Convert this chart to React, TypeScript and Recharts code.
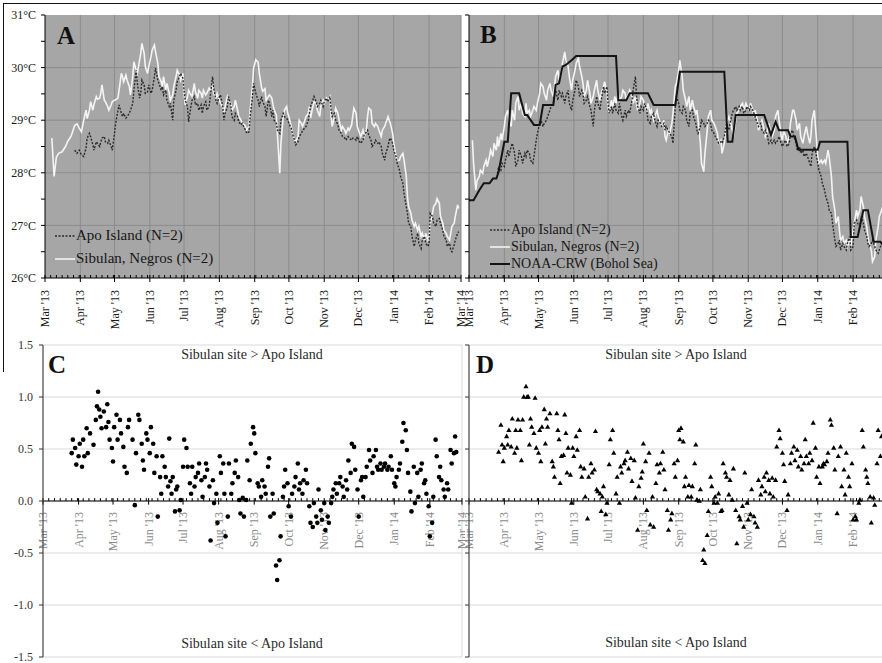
import React from 'react';
import { LineChart, Line, XAxis, YAxis, CartesianGrid, ReferenceLine, Legend, ScatterChart, Scatter } from 'recharts';

const serif = "'Liberation Serif', 'DejaVu Serif', serif";

// days counted from 1 Mar 2013
const monthTicks = [0, 31, 61, 92, 122, 153, 184, 214, 245, 275, 306, 337, 365];
const monthLabels = ["Mar '13", "Apr '13", "May '13", "Jun '13", "Jul '13", "Aug '13", "Sep '13", "Oct '13", "Nov '13", "Dec '13", "Jan '14", "Feb '14", "Mar '14"];
const minorTicks = Array.from({ length: 72 }, (_, i) => (i + 1) * 5).filter(t => !monthTicks.includes(t));
const allTicks = [...monthTicks, ...minorTicks].sort((a, b) => a - b);
const tempTicks = [26, 26.5, 27, 27.5, 28, 28.5, 29, 29.5, 30, 30.5, 31];
const tempGrid = [27, 28, 29, 30];
const diffTicks = [-1.5, -1, -0.5, 0, 0.5, 1, 1.5];

// panel A: daily temperatures
const aDays = [6,8,10,12,15,18,20,23,26,28,30,32,34,36,37,39,40,42,43,45,46,48,49,50,52,53,55,56,58,59,61,62,64,65,67,68,69,71,72,74,75,77,78,80,81,83,84,85,87,88,90,91,93,94,96,97,99,100,102,103,104,106,107,109,110,112,113,115,116,118,119,121,122,123,125,126,128,129,131,132,134,135,137,138,139,141,142,144,145,147,148,150,151,153,154,156,157,158,160,161,163,164,166,167,169,170,172,173,175,176,177,179,180,182,183,
  185,187,188,190,191,193,194,196,197,199,200,201,203,204,206,207,209,210,212,213,214,216,217,219,220,222,223,225,226,228,229,231,232,233,235,236,238,239,241,242,244,245,247,248,250,251,252,254,255,257,258,260,261,263,264,266,267,269,270,271,273,274,276,277,279,280,282,283,284,286,287,289,290,292,293,295,296,298,299,301,302,303,305,306,308,309,311,312,314,315,317,318,319,321,322,324,325,327,328,330,331,333,334,336,337,338,340,341,343,344,346,347,349,350,352,353,355,356,357,359,360,362,363];
const aSib = [28.66,27.93,28.30,28.37,28.40,28.50,28.60,28.70,28.90,28.93,28.85,28.78,29.00,29.19,29.03,29.19,29.35,29.19,29.30,29.45,29.40,29.42,29.52,29.67,29.38,29.35,29.26,29.19,29.29,29.35,29.38,29.39,29.42,29.57,29.89,29.83,29.73,29.86,29.76,29.64,29.48,29.83,30.11,29.95,29.89,30.14,30.27,30.46,30.27,30.02,29.89,30.02,30.21,30.33,30.43,30.30,30.08,29.83,29.73,29.64,29.83,29.57,29.70,29.51,29.38,29.48,29.64,29.83,29.95,29.86,29.76,29.89,29.51,29.29,29.45,29.57,29.48,29.45,29.70,29.54,29.42,29.57,29.51,29.42,29.57,29.48,29.51,29.61,29.57,29.67,29.51,29.42,29.51,29.38,29.32,29.26,29.13,29.26,29.45,29.38,29.32,29.19,29.26,29.38,29.19,29.07,29.00,28.94,28.91,28.88,28.81,28.88,29.19,29.64,29.99,
  30.15,30.10,29.90,29.62,29.55,29.60,29.38,29.45,29.48,29.42,29.30,29.20,29.10,28.70,27.99,28.56,29.07,29.19,29.26,29.13,29.07,28.88,28.75,28.62,28.59,28.69,29.00,28.94,28.88,29.00,29.07,29.13,29.26,29.04,29.26,29.35,29.32,29.19,29.07,29.26,29.38,29.32,29.42,29.38,29.45,29.07,28.88,29.07,29.23,29.13,29.00,28.81,28.88,28.81,28.75,28.85,28.81,28.91,29.07,29.23,29.13,28.88,28.75,28.69,28.81,28.69,28.81,29.07,29.23,29.19,28.94,28.88,28.94,28.88,28.81,28.69,28.81,28.88,28.94,29.07,29.00,28.94,28.75,28.56,28.31,28.24,28.24,28.31,28.37,28.24,27.93,27.55,27.36,27.23,27.10,26.98,27.04,26.91,26.98,26.79,26.85,26.72,26.85,26.72,26.79,27.04,27.23,27.36,27.42,27.51,27.42,27.17,27.04,26.91,26.85,26.79,26.72,26.85,26.98,27.04,27.17,27.39,27.32];
const aApo = [null,null,null,null,null,null,null,null,28.43,28.37,28.43,28.34,28.31,28.47,28.66,28.75,28.69,28.53,28.43,28.59,28.56,28.50,28.59,28.66,28.69,28.59,28.56,28.62,28.50,28.43,28.75,28.94,29.19,29.29,29.13,29.07,29.13,29.04,29.07,29.13,29.19,29.32,29.57,29.95,29.70,29.42,29.51,29.76,29.67,29.51,29.54,29.67,29.51,29.57,29.83,29.99,29.76,29.70,29.57,29.64,29.48,29.57,29.38,29.26,29.32,29.00,29.38,29.57,29.73,29.83,29.89,29.80,29.57,29.38,29.26,28.97,29.26,29.38,29.45,29.29,29.32,29.19,29.29,29.13,29.26,29.35,29.19,29.26,29.45,29.83,29.61,29.38,29.32,29.45,29.48,29.26,29.00,29.13,29.26,29.45,29.29,29.07,29.00,29.13,29.07,28.97,28.91,28.94,28.85,28.81,28.75,28.78,29.07,29.45,29.70,
  29.51,29.38,29.26,29.45,29.35,29.26,29.07,29.38,29.32,29.07,29.19,29.00,28.94,28.81,28.75,29.00,29.13,29.07,29.04,29.00,28.94,28.85,28.75,28.62,28.53,28.59,28.69,28.75,28.81,28.85,28.88,29.00,29.13,29.26,29.38,29.45,29.35,29.26,29.32,29.38,29.26,29.35,29.42,29.35,29.45,29.19,29.07,29.13,29.00,28.91,28.81,28.75,28.69,28.66,28.62,28.69,28.66,28.62,28.66,28.66,28.62,28.69,28.59,28.56,28.62,28.72,28.78,28.81,28.72,28.62,28.50,28.56,28.62,28.56,28.59,28.50,28.37,28.24,28.37,28.50,28.62,28.66,28.56,28.43,28.31,28.18,28.05,27.93,27.80,27.61,27.36,27.23,27.04,26.98,26.79,26.60,26.72,26.85,26.66,26.56,26.72,26.79,26.66,26.60,26.66,27.23,27.17,27.04,26.98,27.10,27.13,27.04,26.91,26.79,26.72,26.60,26.66,26.53,26.50,26.63,26.72,26.85,26.88];

// panel B: daily temperatures
const bDays = [3,4,6,7,9,10,12,13,15,16,18,19,21,22,24,25,26,28,29,31,32,34,35,37,38,40,41,43,44,46,47,49,50,51,53,54,56,57,59,60,62,63,65,66,68,69,71,72,74,75,76,78,79,81,82,84,85,87,88,90,91,93,94,96,97,99,100,101,103,104,106,107,109,110,112,113,115,116,118,119,121,122,123,125,126,128,129,131,132,134,135,137,138,140,141,143,144,146,147,148,150,151,153,154,156,157,159,160,162,163,165,166,168,169,171,172,173,175,176,178,179,
  181,182,184,185,187,188,190,191,193,194,196,197,199,200,201,203,204,206,207,209,210,212,213,215,216,218,219,221,222,224,225,226,228,229,231,232,234,235,237,238,240,241,243,244,246,247,249,250,251,253,254,256,257,259,260,262,263,265,266,268,269,271,272,274,275,276,278,279,281,282,284,285,287,288,290,291,293,294,296,297,299,300,301,303,304,306,307,309,310,312,313,315,316,318,319,321,322,324,325,326,328,329,331,332,334,335,337,338,340,341,343,344,346,347,349,350,351,353,354,356,357,359,360,362,363];
const bSib = [28.62,28.18,27.67,27.85,27.93,28.05,27.99,28.12,28.24,28.12,28.31,28.43,28.31,28.56,28.43,28.69,28.50,28.75,28.62,28.88,29.07,29.19,29.00,28.88,29.19,29.00,29.32,29.45,29.19,29.32,29.13,29.07,29.32,29.13,29.19,29.07,29.19,29.26,29.19,29.32,29.51,29.70,29.64,29.51,29.38,29.57,29.70,29.57,29.45,29.64,29.83,29.95,29.76,29.89,30.08,30.30,30.14,30.02,29.83,29.57,29.76,29.95,30.08,30.18,30.02,29.83,29.70,29.45,29.57,29.76,29.51,29.32,29.45,29.57,29.76,29.57,29.38,29.51,29.64,29.73,29.51,29.26,29.13,29.38,29.26,29.45,29.32,29.51,29.38,29.45,29.57,29.51,29.38,29.51,29.57,29.45,29.32,29.45,29.32,29.19,29.32,29.45,29.38,29.26,29.19,29.32,29.13,29.19,29.00,29.07,29.19,29.07,28.94,28.88,29.00,28.69,28.62,28.81,28.75,28.94,29.13,
  29.64,29.70,29.95,30.14,29.83,29.57,29.38,29.26,29.45,29.19,29.38,29.26,29.13,29.19,29.00,28.56,28.18,28.02,28.37,28.81,29.07,29.19,29.00,28.94,28.88,28.75,28.56,28.62,28.37,28.56,28.75,28.94,29.07,29.00,28.81,28.69,29.00,29.13,29.19,29.26,29.32,29.19,29.32,29.26,29.19,29.32,29.19,29.07,29.19,29.00,28.81,28.94,29.00,28.81,28.69,28.81,28.94,28.75,28.69,28.81,29.07,29.19,29.00,28.69,28.62,28.81,28.69,28.56,28.69,28.94,29.19,29.19,29.00,28.81,28.94,28.69,28.56,28.69,28.88,28.75,28.56,28.69,29.00,29.19,28.88,28.31,28.18,28.24,28.18,28.24,28.18,28.43,28.31,27.93,27.55,27.29,27.04,27.17,26.91,26.72,26.79,26.66,26.72,26.60,26.72,26.60,26.91,27.04,27.29,27.17,27.29,27.55,27.36,27.17,26.98,26.79,26.66,26.53,26.31,26.41,26.72,26.98,27.17,27.29,27.36];
const bApo = [null,null,null,null,null,null,null,null,null,null,null,null,null,null,null,27.99,28.12,28.05,28.18,28.12,28.24,28.43,28.31,28.50,28.56,28.37,28.12,28.24,28.43,28.31,28.18,28.37,28.31,28.43,28.37,28.24,28.18,28.31,28.62,28.75,28.94,29.00,28.88,28.94,29.00,29.07,29.19,29.26,29.32,29.45,29.57,29.38,29.57,29.45,29.51,29.32,29.45,29.57,29.32,29.19,29.38,29.57,29.76,29.64,29.45,29.57,29.51,29.32,29.38,29.45,29.26,29.19,28.88,29.19,29.45,29.32,29.19,29.38,29.64,29.51,29.64,29.32,29.13,29.26,29.13,29.32,29.19,29.13,29.32,29.07,29.00,29.19,29.07,29.19,29.13,29.38,29.57,29.83,29.45,29.26,29.13,29.26,29.19,29.32,29.19,29.00,28.94,29.07,29.13,29.00,28.88,29.00,28.94,28.88,28.94,28.81,28.88,28.81,28.75,28.69,28.56,
  29.26,29.45,29.32,29.19,29.13,29.26,29.19,29.00,28.88,29.13,29.19,29.07,28.94,28.81,28.75,28.88,29.00,28.94,28.88,28.94,29.00,28.94,28.81,28.75,28.69,28.62,28.56,28.59,28.56,28.69,28.81,28.94,28.81,28.94,29.13,29.19,29.26,29.19,29.26,29.19,29.26,29.13,29.19,29.26,29.19,29.26,29.19,29.13,29.07,28.94,28.88,28.94,28.81,28.75,28.81,28.69,28.56,28.62,28.56,28.62,28.56,28.62,28.69,28.56,28.50,28.56,28.62,28.50,28.56,28.75,28.81,28.69,28.56,28.43,28.50,28.37,28.43,28.31,28.37,28.31,28.18,28.12,28.37,28.50,28.43,28.18,28.05,27.93,27.80,27.67,27.55,27.42,27.29,27.23,27.04,26.72,26.60,26.66,26.72,26.53,26.66,26.60,26.53,26.66,26.79,26.53,26.60,27.04,27.10,27.04,26.98,27.17,27.04,26.91,26.79,26.66,26.60,26.66,26.72,26.60,26.53,26.47,26.53,26.66,26.72];
const noaaDays = [0,4,9,13,18,21,24,26,31,34,37,44,49,51,57,62,65,74,76,79,82,85,90,94,129,131,138,141,157,162,181,185,224,227,231,234,259,265,269,272,280,282,286,289,306,308,332,335,341,346,350,355,361,364];
const noaaTemp = [27.48,27.48,27.67,27.80,27.80,27.89,27.89,28.02,28.59,28.59,29.51,29.51,29.10,29.10,28.91,28.91,29.29,29.29,29.67,29.70,30.02,30.05,30.14,30.22,30.22,29.38,29.38,29.51,29.51,29.29,29.29,29.92,29.92,28.59,28.59,29.10,29.10,28.72,28.97,28.81,28.81,28.69,28.69,28.44,28.44,28.59,28.59,26.78,26.78,27.29,27.29,26.69,26.69,26.60];

// panel C: Sibulan minus Apo (daily)
const cDays = [25,26,28,29,31,32,34,35,36,38,39,41,44,46,47,48,49,50,51,53,55,56,57,58,60,61,62,64,65,67,68,70,71,73,74,75,78,80,81,83,84,86,87,88,90,91,93,94,96,97,99,100,102,103,104,106,107,109,110,111,112,113,115,116,117,119,120,122,123,125,126,128,129,130,132,133,135,136,138,139,141,142,143,145,146,148,149,151,152,154,155,157,158,159,161,162,164,165,167,168,170,171,172,174,175,177,178,180,181,183,184,185,187,188,190,191,193,194,196,197,198,200,201,203,204,206,207,209,210,211,213,214,216,217,219,220,222,223,224,226,227,229,230,232,233,235,236,238,239,240,242,243,245,246,248,249,251,252,253,255,256,258,259,261,262,264,265,266,268,269,271,272,274,275,277,278,279,281,282,284,285,287,288,290,291,292,294,295,297,298,300,301,303,304,306,307,308,310,311,313,314,316,317,318,320,321,323,324,326,327,329,330,332,333,334,336,337,339,340,342,343,345,346,347,349,350,352,353,355,356,358,359,360];
const cDiff = [0.46,0.59,0.51,0.35,0.43,0.55,0.33,0.59,0.43,0.70,0.46,0.65,0.54,0.78,0.91,1.05,0.88,0.81,0.70,0.86,0.71,0.93,0.76,0.59,0.51,0.38,0.71,0.83,0.59,0.78,0.65,0.52,0.33,0.27,0.71,0.78,0.59,-0.04,0.46,0.83,0.78,0.55,0.39,0.30,0.65,0.59,0.46,0.71,0.55,0.27,0.43,-0.15,0.23,0.07,0.43,0.33,0.23,0.14,0.60,0.19,0.07,0.23,-0.10,0.11,0.14,-0.09,0.01,0.33,0.59,0.51,0.33,0.17,0.07,0.33,0.14,0.23,0.27,0.36,0.20,0.04,0.23,0.36,0.30,0.14,-0.38,0.20,-0.02,0.07,-0.21,0.43,0.27,0.36,0.07,-0.34,-0.15,0.36,0.07,0.17,0.27,0.39,0.23,0.01,-0.12,0.03,-0.15,0.01,0.39,0.20,0.55,0.71,0.65,0.46,0.17,0.14,0.04,0.20,0.14,0.07,0.33,0.41,-0.15,0.07,-0.12,-0.62,-0.76,-0.57,-0.34,0.04,0.14,0.30,0.17,-0.05,-0.15,0.07,0.14,0.23,0.36,0.11,0.17,0.07,0.20,0.30,0.17,-0.05,-0.21,-0.25,-0.02,-0.15,-0.21,0.11,-0.09,-0.18,-0.02,-0.28,-0.15,-0.21,-0.02,0.04,0.11,0.17,0.07,0.17,0.23,0.14,0.04,0.20,0.11,0.39,0.27,0.55,0.52,0.30,0.11,-0.15,0.20,0.23,0.04,0.23,0.33,0.49,0.39,0.27,0.43,0.49,0.33,0.30,0.36,0.30,0.33,0.36,0.30,0.33,0.43,0.30,0.17,0.14,0.23,0.30,0.36,0.57,0.75,0.68,0.49,0.27,0.09,-0.10,0.33,-0.02,0.27,0.04,0.30,0.36,0.17,0.20,0.07,-0.05,-0.34,-0.21,0.04,0.59,0.43,0.23,0.33,0.20,0.11,0.04,0.17,0.11,0.49,0.36,0.46,0.62,0.47];

// panel D: Sibulan minus Apo (second comparison)
const dDays = [26,28,29,30,31,33,34,35,37,38,40,41,42,43,45,46,47,48,50,51,52,53,54,55,57,58,59,61,62,63,64,66,67,68,69,71,73,74,75,77,78,79,80,81,83,84,85,86,87,89,90,91,92,94,95,97,98,99,101,102,104,105,107,108,110,111,112,113,115,116,117,118,120,121,123,124,126,127,129,130,132,133,134,136,137,139,140,142,143,145,146,148,149,151,152,153,155,156,158,159,161,162,164,165,167,168,170,171,172,174,175,177,178,180,181,183,184,185,186,188,189,190,192,193,195,196,198,199,200,202,203,205,206,207,209,210,212,213,215,216,218,219,221,222,223,225,226,228,229,231,232,234,235,237,238,240,241,242,244,245,247,248,250,251,253,254,256,257,259,260,261,263,264,266,267,269,270,272,273,275,276,277,279,280,282,283,285,286,288,289,291,292,294,295,296,298,299,301,302,304,305,307,308,310,311,312,314,315,317,318,320,321,323,324,326,327,329,330,331,333,334,336,337,339,340,342,343,345,346,348,349,350,352,353,355,356,358,359,361,362];
const dDiff = [0.47,0.73,0.54,0.38,0.51,0.62,0.54,0.68,0.52,0.79,0.46,0.68,0.51,0.78,0.68,0.39,0.78,1.00,1.10,1.00,1.00,0.54,0.79,0.71,0.65,0.99,0.51,0.46,0.68,0.38,0.71,0.88,0.55,0.79,0.71,0.84,0.38,0.33,0.23,0.84,0.68,0.59,0.17,0.43,0.44,0.83,0.65,0.27,0.51,0.25,-0.02,0.51,0.43,0.62,0.49,0.68,0.33,0.23,0.31,0.04,-0.17,0.23,0.36,0.27,0.30,0.67,0.11,0.09,0.07,-0.10,0.04,0.14,-0.13,-0.02,0.35,0.59,0.68,0.46,0.07,0.23,-0.02,0.33,0.27,0.36,0.39,0.47,0.31,0.41,0.19,0.39,0.03,-0.28,0.14,0.22,0.28,0.55,0.38,-0.09,0.46,-0.23,0.04,-0.25,0.17,0.35,0.27,0.36,0.47,0.30,0.11,-0.09,-0.28,-0.18,-0.12,0.36,0.23,0.39,0.68,0.59,0.70,0.57,0.14,0.23,0.04,0.15,0.04,0.14,0.36,0.54,0.01,0.00,0.11,-0.57,-0.47,-0.60,-0.33,-0.10,0.23,0.14,-0.02,0.04,-0.02,0.07,-0.10,-0.09,0.36,0.27,0.23,0.06,0.20,0.01,0.31,-0.09,-0.41,-0.15,-0.18,-0.05,-0.25,0.27,-0.02,-0.18,-0.13,0.11,-0.15,-0.21,-0.25,0.20,0.06,0.14,0.23,0.09,0.27,0.20,0.07,0.22,0.04,0.20,0.52,0.68,0.60,0.46,0.35,0.19,-0.09,0.06,0.36,0.46,0.52,0.39,0.49,0.33,0.43,0.30,0.36,0.59,0.43,0.36,0.46,0.39,0.75,0.51,0.23,0.33,0.17,0.33,0.36,0.35,0.38,0.46,0.78,0.73,0.51,0.30,-0.12,0.43,0.52,0.14,0.30,0.06,0.46,0.23,0.14,0.36,-0.18,-0.15,-0.18,-0.02,0.01,0.68,0.52,0.30,0.23,0.17,0.04,-0.21,0.03,-0.04,0.36,0.68,0.43,0.62];

const rowsA = aDays.map((d, i) => ({ day: d, apo: aApo[i] ?? null, sib: aSib[i] ?? null }));
const rowsB = bDays.map((d, i) => ({ day: d, apo: bApo[i] ?? null, sib: bSib[i] ?? null }));
const rowsNoaa = noaaDays.map((d, i) => ({ day: d, noaa: noaaTemp[i] }));
const pointsC = cDays.map((d, i) => ({ x: d, y: cDiff[i] }));
const pointsD = dDays.map((d, i) => ({ x: d, y: dDiff[i] }));

const seriesStyle: Record<string, { stroke: string; dash?: string; width: number }> = {
  apo: { stroke: '#2a2a2a', dash: '2 1.5', width: 1.4 },
  sib: { stroke: '#f4f4f4', width: 1.6 },
  noaa: { stroke: '#141414', width: 2 },
};
const legendOrder = ['apo', 'sib', 'noaa'];

function makeLegend(fontSize: number, rowH: number) {
  return (props: any) => {
    const items = [...(props.payload || [])].sort((a: any, b: any) => legendOrder.indexOf(a.dataKey) - legendOrder.indexOf(b.dataKey));
    return (
      <div style={{ fontFamily: serif, fontSize, color: '#161616' }}>
        {items.map((e: any) => {
          const s = seriesStyle[e.dataKey];
          return (
            <div key={e.dataKey} style={{ display: 'flex', alignItems: 'center', height: rowH, whiteSpace: 'nowrap' }}>
              <svg width={20} height={6}>
                <line x1={0} x2={20} y1={3} y2={3} stroke={s.stroke} strokeWidth={s.width} strokeDasharray={s.dash} />
              </svg>
              <span style={{ marginLeft: 1 }}>{e.value}</span>
            </div>
          );
        })}
      </div>
    );
  };
}

// month ticks carry a rotated label; the rest are short minor ticks
function makeDateTick(labelLast: boolean) {
  return (props: any) => {
    const { x, y, payload } = props;
    const i = monthTicks.indexOf(payload.value);
    if (i < 0) return <line x1={x} x2={x} y1={y - 3} y2={y} stroke="#000" />;
    const showLabel = labelLast || i < monthTicks.length - 1;
    return (
      <g>
        <line x1={x} x2={x} y1={y - 3} y2={y + 4} stroke="#000" />
        {showLabel && (
          <text transform={`translate(${x + 4},${y + 12}) rotate(-90)`} textAnchor="end" fontSize={12} fontFamily={serif} fill="#1a1a1a">
            {monthLabels[i]}
          </text>
        )}
      </g>
    );
  };
}

const zeroLabel = (text: string) => (p: any) => {
  const vb = p.viewBox;
  if (!vb) return null;
  return (
    <text transform={`translate(${vb.x + 4},${vb.y + 11}) rotate(-90)`} textAnchor="end" fontSize={12} fontFamily={serif} fill="#8a8a8a">
      {text}
    </text>
  );
};

const dotShape = (p: any) => <circle cx={p.cx} cy={p.cy} r={2.3} fill="#000" />;
const triShape = (p: any) => (
  <polygon points={`${p.cx},${p.cy - 2.9} ${p.cx - 2.6},${p.cy + 1.7} ${p.cx + 2.6},${p.cy + 1.7}`} fill="#000" />
);

function TempChart({ width, yWidth, withLabels, withNoaa, legendLeft, legendTop, legendFont, legendRow }: any) {
  return (
    <LineChart width={width} height={340} data={withNoaa ? rowsB : rowsA} margin={{ top: 15, right: withLabels ? 4 : 0, bottom: 0, left: 0 }}>
      <CartesianGrid horizontal={false} vertical={false} fill="#a6a6a6" fillOpacity={1} />
      {tempGrid.map(v => <ReferenceLine key={'h' + v} y={v} stroke="#8c8c8c" />)}
      {monthTicks.slice(1).map(v => <ReferenceLine key={'v' + v} x={v} stroke="#8c8c8c" />)}
      <XAxis type="number" dataKey="day" domain={[0, 365]} ticks={allTicks} interval={0} height={62} tickSize={0} tickMargin={0} tickLine={false} axisLine={{ stroke: '#000' }} tick={makeDateTick(withLabels)} />
      <YAxis type="number" domain={[26, 31]} ticks={tempTicks} interval={0} width={yWidth} tickSize={4} tickMargin={5}
        axisLine={{ stroke: '#000' }} tickLine={{ stroke: '#000' }}
        tick={{ fontSize: 12, fill: '#1a1a1a', fontFamily: serif }}
        tickFormatter={(v: number) => (withLabels && Number.isInteger(v) ? `${v}°C` : '')} />
      <Line type="linear" dataKey="sib" name="Sibulan, Negros (N=2)" stroke={seriesStyle.sib.stroke} strokeWidth={seriesStyle.sib.width} dot={false} isAnimationActive={false} />
      <Line type="linear" dataKey="apo" name="Apo Island (N=2)" stroke={seriesStyle.apo.stroke} strokeWidth={seriesStyle.apo.width} strokeDasharray={seriesStyle.apo.dash} dot={false} isAnimationActive={false} />
      {withNoaa && (
        <Line type="linear" data={rowsNoaa} dataKey="noaa" name="NOAA-CRW (Bohol Sea)" stroke={seriesStyle.noaa.stroke} strokeWidth={seriesStyle.noaa.width} dot={false} isAnimationActive={false} />
      )}
      <Legend layout="vertical" align="center" verticalAlign="middle" content={makeLegend(legendFont, legendRow)}
        wrapperStyle={{ left: legendLeft, top: legendTop, width: 'auto' }} />
    </LineChart>
  );
}

function DiffChart({ width, yWidth, withLabels, points, shape }: any) {
  return (
    <ScatterChart width={width} height={333} margin={{ top: 15, right: withLabels ? 3 : 0, bottom: 6, left: 0 }}>
      <CartesianGrid stroke="#d9d9d9" />
      <XAxis type="number" dataKey="x" domain={[0, 365]} ticks={monthTicks} interval={0} height={0} tick={false} axisLine={false} tickLine={false} />
      <YAxis type="number" dataKey="y" domain={[-1.5, 1.5]} ticks={diffTicks} interval={0} width={yWidth} tickSize={4} tickMargin={6}
        axisLine={{ stroke: '#333' }} tickLine={{ stroke: '#333' }}
        tick={{ fontSize: 12, fill: '#333', fontFamily: serif }}
        tickFormatter={(v: number) => (withLabels ? v.toFixed(1) : '')} />
      {withLabels && (
        <YAxis yAxisId="r" orientation="right" type="number" domain={[-1.5, 1.5]} ticks={diffTicks} width={0} mirror tickSize={4}
          axisLine={{ stroke: '#7f7f7f' }} tickLine={{ stroke: '#7f7f7f' }} tickFormatter={() => ''} />
      )}
      <ReferenceLine y={0} stroke="#000" />
      {allTicks.map(t => (
        <ReferenceLine key={'t' + t} segment={[{ x: t, y: monthTicks.includes(t) ? -0.035 : 0 }, { x: t, y: 0.028 }]} stroke="#000" />
      ))}
      {monthTicks.map((t, i) => (
        withLabels || i < monthTicks.length - 1 ? (
          <ReferenceLine key={'l' + t} segment={[{ x: t, y: 0 }, { x: t, y: -0.1 }]} stroke="none" strokeOpacity={0} label={zeroLabel(monthLabels[i])} />
        ) : null
      ))}
      <Scatter data={points} fill="#000" shape={shape} isAnimationActive={false} />
    </ScatterChart>
  );
}

const letterStyle: React.CSSProperties = { position: 'absolute', fontFamily: serif, fontWeight: 'bold', fontSize: 25, lineHeight: '25px', color: '#111' };
const noteStyle: React.CSSProperties = { position: 'absolute', width: 220, textAlign: 'center', fontFamily: serif, fontSize: 14, lineHeight: '14px', color: '#2a2a2a', whiteSpace: 'nowrap' };

export default function App() {
  return (
    <div style={{ position: 'absolute', left: 0, top: 0, width: 882, height: 663, overflow: 'hidden', background: '#fff' }}>
      <div style={{ position: 'absolute', left: 0, top: 0, width: 468, height: 340, overflow: 'hidden' }}>
        <TempChart width={465} yWidth={45} withLabels withNoaa={false} legendLeft={55} legendTop={224} legendFont={15} legendRow={23} />
      </div>
      <div style={{ position: 'absolute', left: 465, top: 0 }}>
        <TempChart width={420} yWidth={4} withLabels={false} withNoaa legendLeft={25} legendTop={221} legendFont={14} legendRow={17} />
      </div>
      <div style={{ position: 'absolute', left: 0, top: 330 }}>
        <DiffChart width={465} yWidth={43} withLabels points={pointsC} shape={dotShape} />
      </div>
      <div style={{ position: 'absolute', left: 465, top: 330 }}>
        <DiffChart width={420} yWidth={4} withLabels={false} points={pointsD} shape={triShape} />
      </div>

      <div style={{ ...letterStyle, left: 57, top: 23 }}>A</div>
      <div style={{ ...letterStyle, left: 480, top: 22 }}>B</div>
      <div style={{ ...letterStyle, left: 48, top: 352 }}>C</div>
      <div style={{ ...letterStyle, left: 476, top: 352 }}>D</div>

      <div style={{ ...noteStyle, left: 252 - 110, top: 348 }}>Sibulan site &gt; Apo Island</div>
      <div style={{ ...noteStyle, left: 252 - 110, top: 637 }}>Sibulan site &lt; Apo Island</div>
      <div style={{ ...noteStyle, left: 676 - 110, top: 348 }}>Sibulan site &gt; Apo Island</div>
      <div style={{ ...noteStyle, left: 676 - 110, top: 636 }}>Sibulan site &lt; Apo Island</div>

      <div style={{ position: 'absolute', left: 3, top: 3, width: 879, height: 1, background: '#111' }} />
      <div style={{ position: 'absolute', left: 3, top: 3, width: 1, height: 369, background: '#111' }} />
    </div>
  );
}
